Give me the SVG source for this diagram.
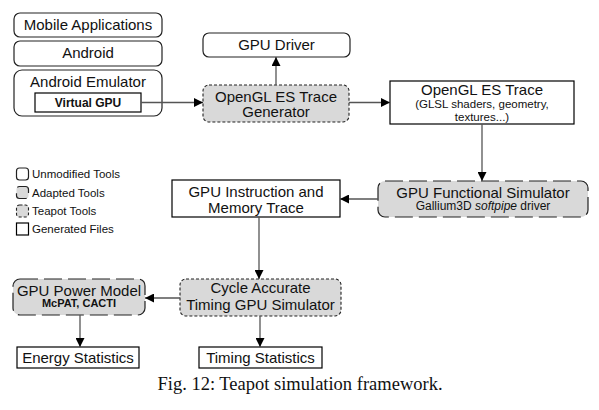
<svg xmlns="http://www.w3.org/2000/svg" width="599" height="410" viewBox="0 0 599 410">
<defs>
<marker id="ah" viewBox="0 0 10 10" refX="10" refY="5" markerWidth="10" markerHeight="9" markerUnits="userSpaceOnUse" orient="auto">
<path d="M0,0 L10,5 L0,10 z" fill="#000"/>
</marker>
<style>
text{font-family:"Liberation Sans",Arial,sans-serif;fill:#111;text-anchor:middle}
.unmod{fill:#fff;stroke:#222;stroke-width:1.2}
.adapt{fill:#d9d9d9;stroke:#222;stroke-width:1.2;stroke-dasharray:18 6}
.teapot{fill:#d9d9d9;stroke:#222;stroke-width:1.1;stroke-dasharray:3 2}
.gen{fill:#fff;stroke:#000;stroke-width:1.2}
.t15{font-size:15px}
.t12{font-size:12px}
.s11{font-size:11.5px}
.b12{font-size:12px;font-weight:bold}
.leg{font-size:11.5px;text-anchor:start}
.conn{stroke:#555;stroke-width:1.3;fill:none;marker-end:url(#ah)}
</style>
</defs>
<g id="mobile-apps"><rect class="unmod" x="14" y="13" width="148" height="24" rx="6"/><text class="t15" x="88" y="30">Mobile Applications</text></g>
<g id="android"><rect class="unmod" x="14" y="41" width="148" height="25" rx="6"/><text class="t15" x="88" y="58">Android</text></g>
<g id="android-emulator"><rect class="unmod" x="14" y="70" width="148" height="46" rx="8"/><text class="t15" x="88" y="87">Android Emulator</text>
<g id="virtual-gpu"><rect class="gen" x="35" y="93" width="106" height="19"/><text class="b12" x="88" y="107">Virtual GPU</text></g></g>
<g id="gpu-driver"><rect class="unmod" x="203" y="33" width="147" height="24" rx="6"/><text class="t15" x="276.5" y="50">GPU Driver</text></g>
<g id="trace-generator"><rect class="teapot" x="203" y="85" width="146" height="37" rx="6"/><text class="t15" x="276" y="101.5">OpenGL ES Trace</text><text class="t15" x="276" y="117">Generator</text></g>
<g id="opengl-trace"><rect class="gen" x="390" y="81" width="184" height="43"/><text class="t15" x="482" y="94.5">OpenGL ES Trace</text><text class="s11" x="482" y="108">(GLSL shaders, geometry,</text><text class="s11" x="482" y="121">textures...)</text></g>
<g id="functional-sim"><rect class="adapt" x="378" y="181" width="210" height="36" rx="7"/><text class="t15" x="483" y="197.5">GPU Functional Simulator</text><text class="t12" x="483" y="210">Gallium3D <tspan font-style="italic">softpipe</tspan> driver</text></g>
<g id="instr-trace"><rect class="gen" x="172" y="180" width="168" height="37"/><text class="t15" x="256" y="196.5">GPU Instruction and</text><text class="t15" x="256" y="212.5">Memory Trace</text></g>
<g id="timing-sim"><rect class="teapot" x="180" y="279" width="161" height="37" rx="6"/><text class="t15" x="260.5" y="293">Cycle Accurate</text><text class="t15" x="260.5" y="310">Timing GPU Simulator</text></g>
<g id="power-model"><rect class="adapt" x="13" y="279" width="132" height="36" rx="7"/><text class="t15" x="79" y="295.5">GPU Power Model</text><text x="79" y="307" style="font-size:11px;font-weight:bold">McPAT, CACTI</text></g>
<g id="energy-stats"><rect class="gen" x="17" y="347" width="122" height="21"/><text class="t15" x="78" y="362.5">Energy Statistics</text></g>
<g id="timing-stats"><rect class="gen" x="199" y="347" width="123" height="21"/><text class="t15" x="260.5" y="362.5">Timing Statistics</text></g>
<g id="legend">
<rect class="unmod" x="16.5" y="168" width="12" height="12" rx="3"/><text class="leg" x="32" y="178">Unmodified Tools</text>
<rect class="adapt" x="16.5" y="186.5" width="12" height="12" rx="3" style="stroke-dasharray:14 6"/><text class="leg" x="32" y="196.5">Adapted Tools</text>
<rect class="teapot" x="16.5" y="205" width="12" height="12" rx="3"/><text class="leg" x="32" y="215">Teapot Tools</text>
<rect class="gen" x="16.5" y="223" width="12" height="12"/><text class="leg" x="32" y="233">Generated Files</text>
</g>
<g id="connectors">
<line class="conn" x1="141" y1="102.5" x2="203" y2="102.5"/>
<line class="conn" x1="276" y1="85" x2="276" y2="57"/>
<line class="conn" x1="349" y1="102.5" x2="390" y2="102.5"/>
<line class="conn" x1="482" y1="124" x2="482" y2="181"/>
<line class="conn" x1="378" y1="199" x2="340" y2="199"/>
<line class="conn" x1="259" y1="217" x2="259" y2="279"/>
<line class="conn" x1="180" y1="298" x2="145" y2="298"/>
<line class="conn" x1="80" y1="315" x2="80" y2="347"/>
<line class="conn" x1="260" y1="316" x2="260" y2="347"/>
</g>
<text x="300" y="390" style="font-family:'Liberation Serif','Times New Roman',serif;font-size:18.5px">Fig. 12: Teapot simulation framework.</text>
</svg>
